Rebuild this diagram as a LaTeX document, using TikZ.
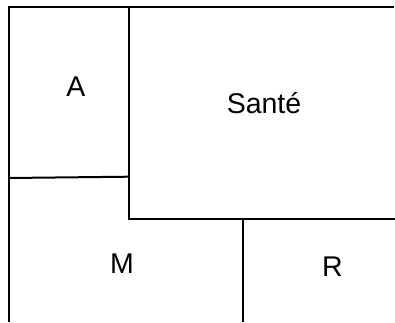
\documentclass[tikz,border=0pt]{standalone}
\usepackage{fontspec}
\setmainfont{Liberation Sans}
\begin{document}
\begin{tikzpicture}[x=1pt,y=-1pt,
  wall/.style={draw=black,line width=2pt},
  lbl/.style={anchor=base,inner sep=0pt,font=\fontsize{28.5}{28.5}\selectfont}]
\useasboundingbox (0,0) rectangle (395,322);
\coordinate (tl) at (8.5,7);
\coordinate (tr) at (394,7);
\coordinate (bl) at (8.5,322);
\coordinate (mt) at (128.5,7);
\coordinate (mb) at (128.5,219);
\coordinate (ml) at (8.5,178);
\coordinate (mr) at (128.5,176.7);
\coordinate (hr) at (395,219);
\coordinate (rt) at (242.5,219);
\coordinate (rb) at (242.5,322);
\draw[wall] (bl) -- (tl) -- (tr);
\draw[wall] (mt) -- (mb) -- (hr);
\draw[wall] (ml) -- (mr);
\draw[wall] (rt) -- (rb);
\node[lbl] (a) at (76,96.7) {A};
\node[lbl] (s) at (264,113.3) {Santé};
\node[lbl] (m) at (122,273) {M};
\node[lbl] (r) at (332.5,276.7) {R};
\end{tikzpicture}
\end{document}
